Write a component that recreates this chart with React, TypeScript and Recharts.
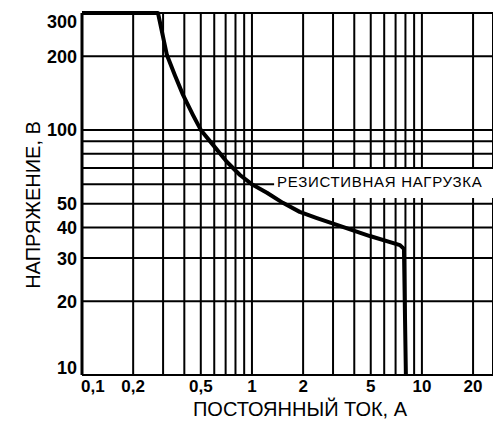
import React from "react";
import {
  LineChart,
  Line,
  XAxis,
  YAxis,
  CartesianGrid,
  ReferenceArea,
} from "recharts";

// гриды по току и напряжению
const xGrid = [0.1, 0.2, 0.3, 0.4, 0.5, 0.6, 0.7, 0.8, 0.9, 1, 2, 3, 4, 5, 6, 7, 8, 9, 10, 20];
const yGrid = [10, 20, 30, 40, 50, 60, 70, 80, 90, 100, 200, 300];

const xTickValues = [0.1, 0.2, 0.5, 1, 2, 5, 10, 20];
const xTickText = ["0,1", "0,2", "0,5", "1", "2", "5", "10", "20"];
const yTickValues = [10, 20, 30, 40, 50, 100, 200, 300];

// кривая: резистивная нагрузка
const currentA = [
  0.1, 0.28, 0.316, 0.352, 0.393, 0.45, 0.5, 0.59, 0.713, 0.85, 1.01, 1.225,
  1.52, 1.91, 2.41, 3.16, 4.94, 7.43, 7.84, 8.05,
];
const voltageV = [
  300, 300, 202, 167, 139, 115, 100, 86.9, 74, 65.5, 59.7, 55.4,
  50.4, 46.3, 43.7, 41, 36.9, 33.9, 32.7, 10,
];

const data = currentA.map((a, i) => ({ a, v: voltageV[i] }));

const FONT = "'Liberation Sans', Arial, sans-serif";

const XTick = ({ x, y, payload }: any) => {
  const i = xTickValues.indexOf(payload.value);
  if (i < 0) return <g />;
  const first = payload.value === 0.1;
  return (
    <text
      x={first ? x - 1 : x}
      y={y + 17}
      textAnchor={first ? "start" : "middle"}
      fontSize={17}
      fontWeight="bold"
      fontFamily={FONT}
      fill="#000"
    >
      {xTickText[i]}
    </text>
  );
};

const YTick = ({ x, y, payload }: any) => {
  if (!yTickValues.includes(payload.value)) return <g />;
  let dy = 6.5;
  if (payload.value === 300) dy = 15;
  if (payload.value === 10) dy = -1;
  return (
    <text
      x={x - 5}
      y={y + dy}
      textAnchor="end"
      fontSize={18}
      fontWeight="bold"
      fontFamily={FONT}
      fill="#000"
    >
      {payload.value}
    </text>
  );
};

export default function App() {
  return (
    <div style={{ position: "absolute", left: 0, top: 0, background: "#fff" }}>
      <LineChart
        width={493}
        height={423}
        data={data}
        margin={{ top: 13, right: 0, left: 0, bottom: 0 }}
      >
        <CartesianGrid stroke="#000" strokeWidth={2} />
        <XAxis
          dataKey="a"
          type="number"
          scale="log"
          domain={[0.1, 26.2]}
          ticks={xGrid}
          interval={0}
          height={48}
          tickSize={0}
          tickMargin={0}
          tick={<XTick />}
          axisLine={{ stroke: "#000", strokeWidth: 2 }}
          label={() => (
            <text x={300} y={416} textAnchor="middle" fontSize={20} fontFamily={FONT} fill="#000">
              ПОСТОЯННЫЙ ТОК, А
            </text>
          )}
        />
        <YAxis
          dataKey="v"
          type="number"
          scale="log"
          domain={[10, 300]}
          ticks={yGrid}
          interval={0}
          width={82}
          tickSize={0}
          tickMargin={0}
          tick={<YTick />}
          axisLine={{ stroke: "#000", strokeWidth: 3 }}
          label={() => (
            <text
              x={40}
              y={205}
              transform="rotate(-90 40 205)"
              textAnchor="middle"
              fontSize={20}
              fontFamily={FONT}
              fill="#000"
            >
              НАПРЯЖЕНИЕ, В
            </text>
          )}
        />
        <ReferenceArea
          x1={1.35}
          x2={26.2}
          y1={52.7}
          y2={69.3}
          fill="#fff"
          fillOpacity={1}
          stroke="none"
          label={(p: any) => (
            <text
              x={p.viewBox.x + 3}
              y={p.viewBox.y + 18}
              fontSize={15}
              letterSpacing={0.7}
              fontFamily={FONT}
              fill="#000"
            >
              РЕЗИСТИВНАЯ НАГРУЗКА
            </text>
          )}
        />
        <Line
          type="linear"
          dataKey="v"
          stroke="#000"
          strokeWidth={4}
          strokeLinejoin="round"
          dot={false}
          isAnimationActive={false}
        />
      </LineChart>
    </div>
  );
}
